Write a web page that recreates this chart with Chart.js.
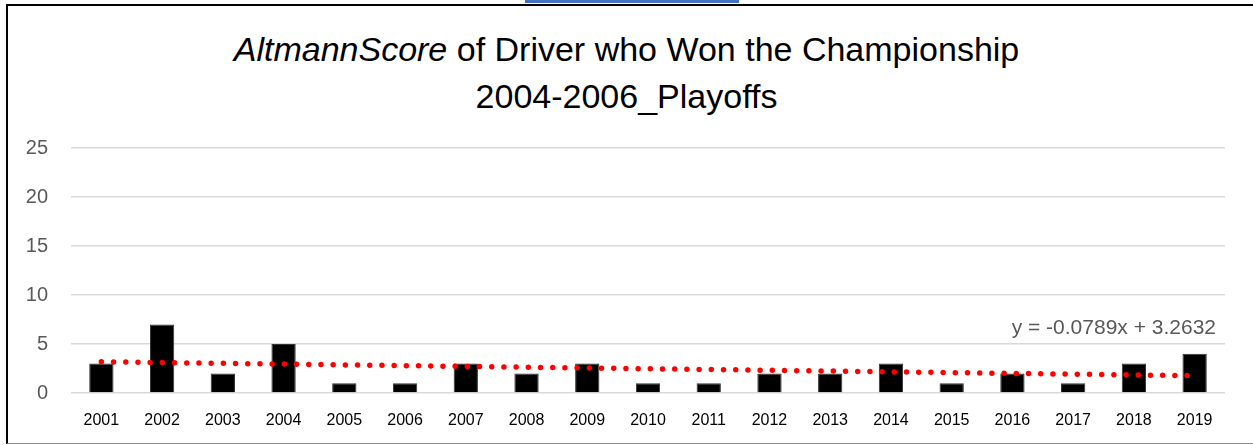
<!DOCTYPE html>
<html lang="en">
<head>
    <meta charset="UTF-8">
    <title>AltmannScore of Driver who Won the Championship</title>
    <script src="https://cdn.jsdelivr.net/npm/chart.js"></script>
    <style>
        body { margin: 0; background: #fff; font-family: "Liberation Sans", Arial, sans-serif; }
        #wrap { position: relative; width: 1253px; height: 445px; overflow: hidden; }
        #tab { position: absolute; left: 525px; top: 0; width: 214px; height: 3px; background: #4472c4; }
        #frame { position: absolute; left: 6px; top: 4px; width: 1260px; height: 437px;
                 border-left: 2px solid #000; border-top: 2px solid #000; border-bottom: 1px solid #8c8c8c; }
        #title { position: absolute; left: 0; width: 1253px; top: 26px; text-align: center;
                 font-size: 34px; line-height: 47px; color: #000; }
        canvas { position: absolute; left: 0; top: 0; }
    </style>
</head>
<body>
<div id="wrap">
    <div id="tab"></div>
    <div id="frame"></div>
    <div id="title"><i>AltmannScore</i> of Driver who Won the Championship<br>2004-2006_Playoffs</div>
    <canvas id="chart" width="1253" height="445"></canvas>
</div>

<script>
    // data
    const years = ['2001', '2002', '2003', '2004', '2005', '2006', '2007', '2008', '2009', '2010',
                   '2011', '2012', '2013', '2014', '2015', '2016', '2017', '2018', '2019'];
    const scores = [3, 7, 2, 5, 1, 1, 3, 2, 3, 1, 1, 2, 2, 3, 1, 2, 1, 3, 4];
    const yTicks = [0, 5, 10, 15, 20, 25];

    // linear trendline as printed on the chart
    const slope = -0.0789;
    const intercept = 3.2632;
    const trend = years.map((y, i) => intercept + slope * (i + 1));
    const eqText = 'y = -0.0789x + 3.2632';

    // writes the trendline equation in the top-right of the plot
    const eqLabel = {
        id: 'eqLabel',
        afterDraw(chart) {
            const c = chart.ctx, a = chart.chartArea;
            c.save();
            c.font = '21px "Liberation Sans", Arial, sans-serif';
            c.fillStyle = '#595959';
            c.textAlign = 'right';
            c.textBaseline = 'middle';
            c.fillText(eqText, a.right - 9, 328);
            c.restore();
        }
    };

    new Chart(document.getElementById('chart'), {
        data: {
            labels: years,
            datasets: [
                {
                    type: 'line',
                    data: trend,
                    borderColor: '#ff0000',
                    borderWidth: 5.5,
                    borderDash: [0, 12.2],
                    borderCapStyle: 'round',
                    pointRadius: 0,
                    fill: false,
                    order: 0
                },
                {
                    type: 'bar',
                    data: scores,
                    backgroundColor: '#000',
                    borderColor: '#333',
                    borderWidth: 1,
                    categoryPercentage: 1,
                    barPercentage: 0.4,
                    order: 1
                }
            ]
        },
        options: {
            responsive: false,
            animation: false,
            layout: { padding: { top: 148, right: 28, left: 0, bottom: 0 } },
            plugins: { legend: { display: false }, tooltip: { enabled: false }, title: { display: false } },
            scales: {
                x: {
                    grid: { display: false },
                    border: { display: false },
                    ticks: { color: '#000', font: { size: 16, family: '"Liberation Sans", Arial, sans-serif' }, padding: 10, maxRotation: 0 },
                    afterFit(s) { s.height = 52; }
                },
                y: {
                    min: 0,
                    max: 25,
                    afterBuildTicks(s) { s.ticks = yTicks.map(v => ({ value: v })); },
                    grid: { color: '#d9d9d9', lineWidth: 1.5, drawTicks: false },
                    border: { display: false },
                    ticks: { color: '#595959', font: { size: 20, family: '"Liberation Sans", Arial, sans-serif' }, padding: 23 },
                    afterFit(s) { s.width = 71; }
                }
            }
        },
        plugins: [eqLabel]
    });
</script>
</body>
</html>
